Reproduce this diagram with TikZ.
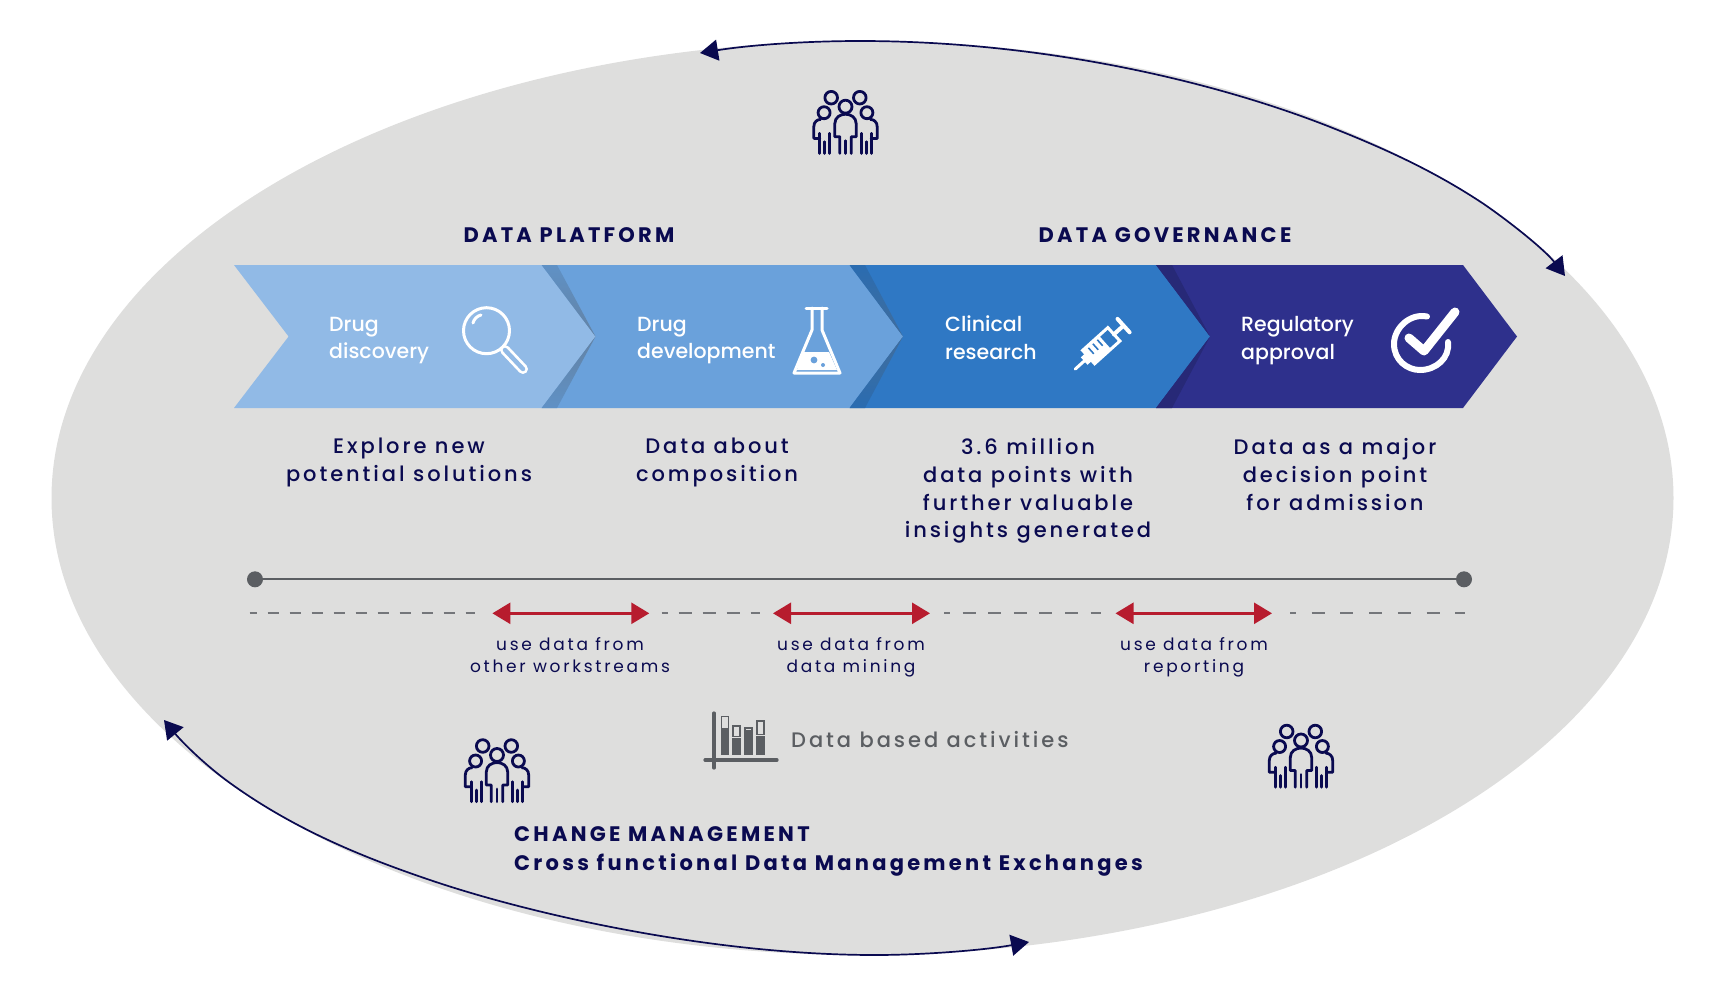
\documentclass[tikz,border=0pt]{standalone}
\usepackage{fontspec}
\setmainfont{Poppins}
\newfontfamily\headfont[LetterSpace=15.5]{Poppins}[BoldFont=Poppins Bold]
\newfontfamily\notefont[LetterSpace=14]{Poppins Medium}
\newfontfamily\smallfont[LetterSpace=16]{Poppins}
\newfontfamily\tightfont{Poppins Medium}
\usetikzlibrary{arrows.meta}
\definecolor{navyink}{HTML}{0A0A50}
\definecolor{ovalgrey}{HTML}{DEDEDD}
\definecolor{slategrey}{HTML}{5B5E62}
\definecolor{usered}{HTML}{B71C2E}
\definecolor{chevA}{HTML}{91BAE6}
\definecolor{chevB}{HTML}{6AA1DB}
\definecolor{chevC}{HTML}{2F78C4}
\definecolor{chevD}{HTML}{2E308C}
\tikzset{
  heading/.style={inner sep=0pt,text=navyink,font=\headfont\bfseries\fontsize{21}{28}\selectfont},
  stagename/.style={inner sep=0pt,anchor=west,align=left,text=white,font=\tightfont\fontsize{20.5}{27.5}\selectfont},
  stagenote/.style={inner sep=0pt,anchor=north,align=center,text=navyink,font=\notefont\fontsize{21}{27.6}\selectfont},
  usenote/.style={inner sep=0pt,anchor=north,align=center,text=navyink,font=\smallfont\fontsize{17}{22.4}\selectfont},
  orbit/.style={line width=1.7pt,draw=navyink,{Triangle[length=18pt,width=21pt]}-{Triangle[length=18pt,width=21pt]}},
  usearrow/.style={line width=2.6pt,draw=usered,{Triangle[length=18pt,width=21pt]}-{Triangle[length=18pt,width=21pt]}},
  dashline/.style={line width=1.7pt,draw=slategrey!85!white},
  iconline/.style={line width=3pt,draw=white,line cap=round,line join=round},
  pics/peoplegroup/.style={code={
    \begin{scope}[line width=2.8pt,draw=navyink,line cap=round,line join=round]
      \draw (0,0) circle[radius=6.5];
      \draw (-14.3,-9) circle[radius=6.3];
      \draw (14.3,-9) circle[radius=6.3];
      \draw (-21.4,6) circle[radius=6];
      \draw (21.4,6) circle[radius=6];
      \draw (-5.7,46.7) -- (-5.7,30) -- (-10.7,30) -- (-10.7,17) .. controls (-10.7,10.5) and (-5,7.5) .. (0,7.5)
        .. controls (5,7.5) and (10.7,10.5) .. (10.7,17) -- (10.7,30) -- (5.7,30) -- (5.7,46.7);
      \draw (0,34) -- (0,46.7);
      \draw (-25.7,46.7) -- (-25.7,26.7);
      \draw (-20.7,46.7) -- (-20.7,35);
      \draw (-15.7,46.7) -- (-15.7,26.7);
      \draw (-25.7,31.7) -- (-31.7,31.7) -- (-31.7,20) .. controls (-31.7,15) and (-28,12.7) .. (-25,12.7);
      \draw (25.7,46.7) -- (25.7,26.7);
      \draw (20.7,46.7) -- (20.7,35);
      \draw (15.7,46.7) -- (15.7,26.7);
      \draw (25.7,31.7) -- (31.7,31.7) -- (31.7,20) .. controls (31.7,15) and (28,12.7) .. (25,12.7);
    \end{scope}
  }}
}

\begin{document}
\begin{tikzpicture}[x=1pt,y=-1pt]
  \useasboundingbox (0,0) rectangle (1722,1002);
  % oval
  \fill[ovalgrey] (862.5,498) ellipse[x radius=811,y radius=457];
  % orbit arrows
  \coordinate (topL) at (700,53);
  \coordinate (topM) at (860,41);
  \coordinate (topN) at (1327.7,126);
  \coordinate (topP) at (1483.8,204);
  \coordinate (topR) at (1565,276);
  \draw[orbit] (topL) .. controls (750,45) and (805,41) .. (topM)
    .. controls (1040,41) and (1210,80) .. (topN)
    .. controls (1385,148.5) and (1435,171.5) .. (topP)
    .. controls (1510,222) and (1545,250) .. (topR);
  \coordinate (lowL) at (164,720);
  \coordinate (lowP) at (230,783);
  \coordinate (lowN) at (430,880);
  \coordinate (lowM) at (875,955);
  \coordinate (lowR) at (1029,942);
  \draw[orbit] (lowL) .. controls (182,742) and (205,765) .. (lowP)
    .. controls (295,830) and (365,858) .. (lowN)
    .. controls (530,914) and (710,955) .. (lowM)
    .. controls (925,955) and (985,950) .. (lowR);
  % chevrons, right one first
  \fill[chevD] (1156,265) -- (1463,265) -- (1517,336.5) -- (1463,408) -- (1156,408) -- cycle;
  \fill[chevC] (849.5,265) -- (1156,265) -- (1210,336.5) -- (1156,408) -- (849.5,408) -- cycle;
  \fill[chevB] (541.6,265) -- (849.5,265) -- (903,336.5) -- (849.5,408) -- (541.6,408) -- cycle;
  \fill[chevA] (234,265) -- (541.6,265) -- (595.5,336.5) -- (541.6,408) -- (234,408) -- (288.6,336.5) -- cycle;
  % wedges behind the tips
  \shade[top color=chevB!90!black,bottom color=chevB!55!slategrey] (541.6,265) -- (557,265) -- (595.5,336.5) -- cycle;
  \shade[bottom color=chevB!90!black,top color=chevB!55!slategrey] (541.6,408) -- (557,408) -- (595.5,336.5) -- cycle;
  \shade[top color=chevC!90!black,bottom color=chevC!60!slategrey] (849.5,265) -- (865,265) -- (903,336.5) -- cycle;
  \shade[bottom color=chevC!90!black,top color=chevC!60!slategrey] (849.5,408) -- (865,408) -- (903,336.5) -- cycle;
  \fill[chevD!85!black] (1156,265) -- (1172,265) -- (1210,336.5) -- cycle;
  \fill[chevD!85!black] (1156,408) -- (1172,408) -- (1210,336.5) -- cycle;
  % headings
  \node[heading] (platform) at (569,235) {DATA PLATFORM};
  \node[heading] (governance) at (1165,235) {DATA GOVERNANCE};
  % stage names
  \node[stagename] (discovery) at (329,340.5) {Drug\\discovery};
  \node[stagename] (development) at (637,340.5) {Drug\\development};
  \node[stagename] (research) at (945,337.5) {Clinical\\research};
  \node[stagename] (approval) at (1241,340.5) {Regulatory\\approval};
  % magnifier
  \draw[iconline] (486.5,330.7) circle[radius=23];
  \draw[iconline] (473,323) .. controls (474,319) and (477,316) .. (481,315);
  \draw[line width=10pt,draw=white,line cap=round] (505,350) -- (523,369);
  \draw[line width=4.5pt,draw=chevA,line cap=round] (505,350) -- (523,369);
  % flask
  \draw[iconline] (806,308) -- (827,308);
  \draw[iconline,line width=3pt] (812,308) -- (812,330) -- (794,373) -- (840,373) -- (822,330) -- (822,308);
  \fill[white] (802,352) -- (829,352) -- (837,370) -- (797,370) -- cycle;
  \fill[chevB] (814,360) circle[radius=3.4];
  \fill[chevB] (823,365) circle[radius=2];
  % syringe
  \begin{scope}[shift={(1102,345)},rotate=42]
    \draw[iconline] (-36,0) -- (-22,0);
    \fill[white] (-24,-5) rectangle (-18,5);
    \draw[iconline,line cap=butt,line join=miter] (-18,-9) rectangle (16,9);
    \fill[white] (-18,-9) rectangle (4,9);
    \foreach \tickx in {-12,-6,0} {\draw[line width=1.6pt,draw=chevC] (\tickx,-7) -- (\tickx,1);}
    \draw[iconline,line width=4pt] (16,0) -- (28,0);
    \draw[iconline,line width=4pt] (29,-9) -- (29,9);
  \end{scope}
  % check mark
  \draw[line width=6pt,draw=white,line cap=round] (1427,316.5) .. controls (1410,313) and (1394,328) .. (1394,344)
    .. controls (1394,360) and (1407,370) .. (1420,370) .. controls (1436,370) and (1450,358) .. (1448,342);
  \draw[line width=9pt,draw=white,line cap=round,line join=round] (1409,338) -- (1424,351) -- (1455,312);
  % notes under the stages
  \node[stagenote] (noteA) at (409,438) {Explore new\\potential solutions};
  \node[stagenote] (noteB) at (717,438) {Data about\\composition};
  \node[stagenote] (noteC) at (1028,438.5) {3.6 million\\data points with\\further valuable\\insights generated};
  \node[stagenote] (noteD) at (1335,438.5) {Data as a major\\decision point\\for admission};
  % time line
  \fill[slategrey] (255,579.3) circle[radius=8] coordinate (lineL);
  \fill[slategrey] (1464,579.3) circle[radius=8] coordinate (lineR);
  \draw[line width=2.3pt,draw=slategrey] (lineL) -- (lineR);
  % dashes and red arrows
  \coordinate (dashA) at (249.5,613.3); \coordinate (dashAe) at (475,613.3);
  \coordinate (dashB) at (661.5,613.3); \coordinate (dashBe) at (760,613.3);
  \coordinate (dashC) at (944,613.3); \coordinate (dashCe) at (1101,613.3);
  \coordinate (dashD) at (1290,613.3); \coordinate (dashDe) at (1465,613.3);
  \draw[dashline,dash pattern=on 11pt off 11pt,dash phase=4pt] (dashA) -- (dashAe);
  \draw[dashline,dash pattern=on 13pt off 11pt,dash phase=7pt] (dashB) -- (dashBe);
  \draw[dashline,dash pattern=on 13pt off 12.6pt,dash phase=7pt] (dashC) -- (dashCe);
  \draw[dashline,dash pattern=on 13pt off 15.7pt,dash phase=7pt] (dashD) -- (dashDe);
  \coordinate (useAl) at (492.4,613.3); \coordinate (useAr) at (649.3,613.3);
  \coordinate (useBl) at (773,613.3); \coordinate (useBr) at (930,613.3);
  \coordinate (useCl) at (1115.5,613.3); \coordinate (useCr) at (1272,613.3);
  \draw[usearrow] (useAl) -- (useAr);
  \draw[usearrow] (useBl) -- (useBr);
  \draw[usearrow] (useCl) -- (useCr);
  \node[usenote] (useA) at (570,637) {use data from\\other workstreams};
  \node[usenote] (useB) at (851,637) {use data from\\data mining};
  \node[usenote] (useC) at (1194,637) {use data from\\reporting};
  % chart icon
  \draw[line width=3.2pt,draw=slategrey,line cap=round] (714,713) -- (714,768);
  \draw[line width=3.2pt,draw=slategrey,line cap=round] (705,760) -- (777,760);
  \fill[slategrey] (720.7,730) rectangle (729.3,755);
  \fill[slategrey] (732.3,737.7) rectangle (741,755);
  \fill[slategrey] (744.3,732) rectangle (753,755);
  \fill[slategrey] (756,735.7) rectangle (764.7,755);
  \draw[line width=1.6pt,draw=slategrey,fill=ovalgrey] (721.5,716.5) rectangle (728.5,729);
  \draw[line width=1.6pt,draw=slategrey,fill=ovalgrey] (733.1,725.8) rectangle (740.2,736.5);
  \draw[line width=1.6pt,draw=slategrey,fill=ovalgrey] (745.1,728) rectangle (752.2,730.8);
  \draw[line width=1.6pt,draw=slategrey,fill=ovalgrey] (756.8,720.8) rectangle (763.9,734.3);
  \node[inner sep=0pt,anchor=west,text=slategrey,font=\notefont\fontsize{21}{24}\selectfont] (activities) at (791,739.5) {Data based activities};
  % people
  \pic (peopleTop) at (845.5,106.7) {peoplegroup};
  \pic (peopleLeft) at (497,755) {peoplegroup};
  \pic (peopleRight) at (1301,740.5) {peoplegroup};
  % exchange caption
  \node[heading,anchor=west] (change) at (514,834.5) {CHANGE MANAGEMENT};
  \node[heading,anchor=west] (exchanges) at (514,865) {Cross functional Data Management Exchanges};
\end{tikzpicture}
\end{document}
